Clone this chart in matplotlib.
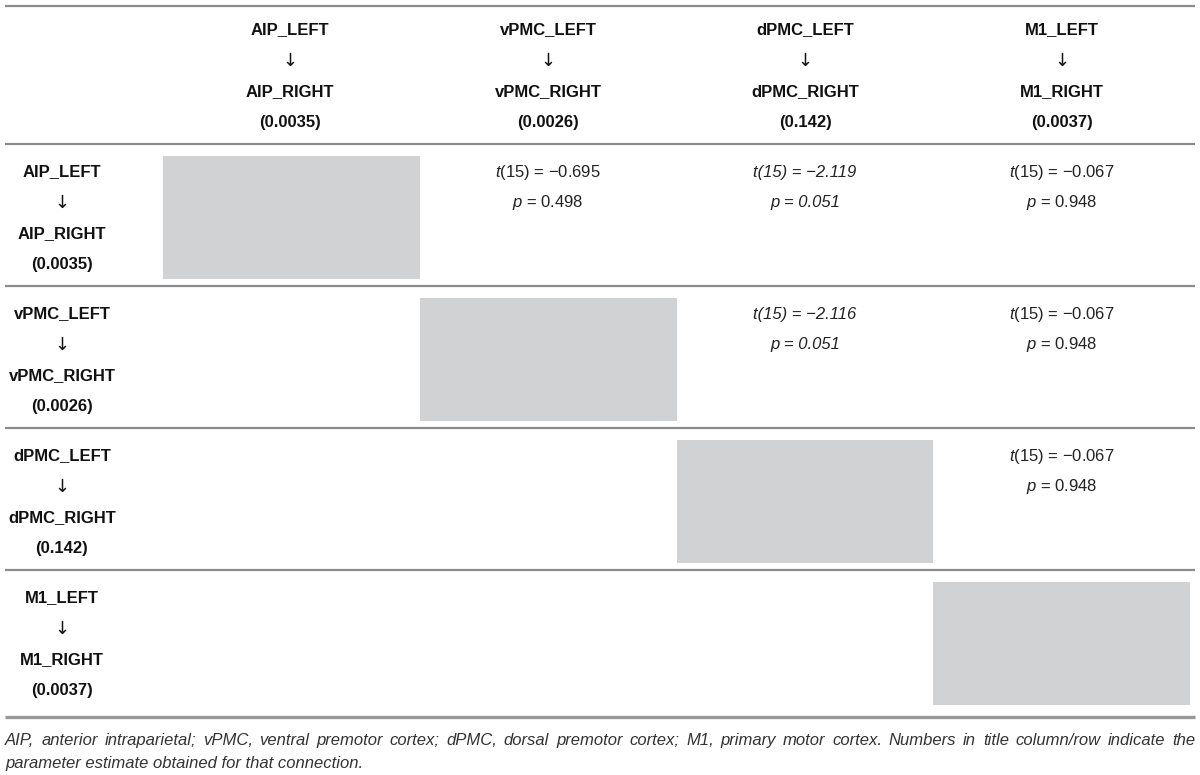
import matplotlib
matplotlib.use("Agg")
import matplotlib.pyplot as plt
from matplotlib.patches import Rectangle

plt.rcParams['font.family'] = ['Liberation Sans', 'DejaVu Sans']
plt.rcParams['mathtext.fontset'] = 'custom'
plt.rcParams['mathtext.it'] = 'Liberation Sans:italic'
plt.rcParams['mathtext.rm'] = 'Liberation Sans'

regions = ['AIP', 'vPMC', 'dPMC', 'M1']
estimates = ['0.0035', '0.0026', '0.142', '0.0037']

# (row, col, t, p, all-italic)
tests = [
    (0, 1, '−0.695', '0.498', False),
    (0, 2, '−2.119', '0.051', True),
    (0, 3, '−0.067', '0.948', False),
    (1, 2, '−2.116', '0.051', True),
    (1, 3, '−0.067', '0.948', False),
    (2, 3, '−0.067', '0.948', False),
]

caption = ("AIP, anterior intraparietal; vPMC, ventral premotor cortex; dPMC, dorsal premotor cortex; "
           "M1, primary motor cortex. Numbers in title column/row indicate the "
           "parameter estimate obtained for that connection.")
caption_break = "the"  # last word of line 1

W, H = 1200, 775
fig = plt.figure(figsize=(12, 7.75), dpi=100)
ax = fig.add_axes([0, 0, 1, 1])
ax.set_xlim(0, W)
ax.set_ylim(H, 0)
ax.axis('off')

line_col = '#8a8a8a'
cell_gray = '#d1d2d4'
fs = 12

col_x = [62, 290, 548, 805, 1062]
col_edges = [163, 420, 677, 933, 1190]
header_top = 6
header_bot = 144
row_h = 142
row_tops = [header_bot + i * row_h for i in range(4)]
line_gap = 31

# horizontal rules
for y in [header_top, header_bot] + [t + row_h for t in row_tops[:-1]]:
    ax.plot([5, 1195], [y, y], color=line_col, lw=1.6, solid_capstyle='butt')
ax.plot([5, 1195], [717, 717], color='#999999', lw=2.4, solid_capstyle='butt')

def stack(x, y0, name, est):
    lines = [name + '_LEFT', '↓', name + '_RIGHT', '(' + est + ')']
    for k, s in enumerate(lines):
        if k == 1:
            ax.text(x, y0 + k * line_gap, s, ha='center', va='center',
                    fontsize=13, family='DejaVu Sans', color='#111111')
        else:
            ax.text(x, y0 + k * line_gap, s, ha='center', va='center',
                    fontsize=fs, fontweight='bold', color='#111111')

# header
for j, (name, est) in enumerate(zip(regions, estimates)):
    stack(col_x[j + 1], 30, name, est)

# rows
for i, (name, est) in enumerate(zip(regions, estimates)):
    top = row_tops[i]
    stack(col_x[0], top + 28, name, est)
    ax.add_patch(Rectangle((col_edges[i], top + 12), col_edges[i + 1] - col_edges[i],
                           row_h - 19, facecolor=cell_gray, edgecolor='none'))

for r, c, t, p, ital in tests:
    x = col_x[c + 1]
    y = row_tops[r] + 28
    if ital:
        ax.text(x, y, 't(15) = ' + t, ha='center', va='center', fontsize=fs,
                style='italic', color='#222222')
        ax.text(x, y + line_gap, 'p = ' + p, ha='center', va='center', fontsize=fs,
                style='italic', color='#222222')
    else:
        ax.text(x, y, r'$\it{t}$(15) = ' + t, ha='center', va='center', fontsize=fs,
                color='#222222')
        ax.text(x, y + line_gap, r'$\it{p}$ = ' + p, ha='center', va='center', fontsize=fs,
                color='#222222')

# justified caption
words = caption.split(' ')
idx = words.index(caption_break) + 1
line1, line2 = words[:idx], words[idx:]
fig.canvas.draw()
renderer = fig.canvas.get_renderer()
cap_fs = 12
x_left, x_right = 5, 1195
widths = []
arts = []
for w in line1:
    a = ax.text(0, 745, w, ha='left', va='baseline', fontsize=cap_fs, style='italic',
                color='#333333')
    bb = a.get_window_extent(renderer=renderer)
    widths.append(bb.width)
    arts.append(a)
gap = (x_right - x_left - sum(widths)) / (len(line1) - 1)
x = x_left
for a, w in zip(arts, widths):
    a.set_x(x)
    x += w + gap
ax.text(x_left, 768, ' '.join(line2), ha='left', va='baseline', fontsize=cap_fs,
        style='italic', color='#333333')

fig.savefig('out.png', dpi=100)
